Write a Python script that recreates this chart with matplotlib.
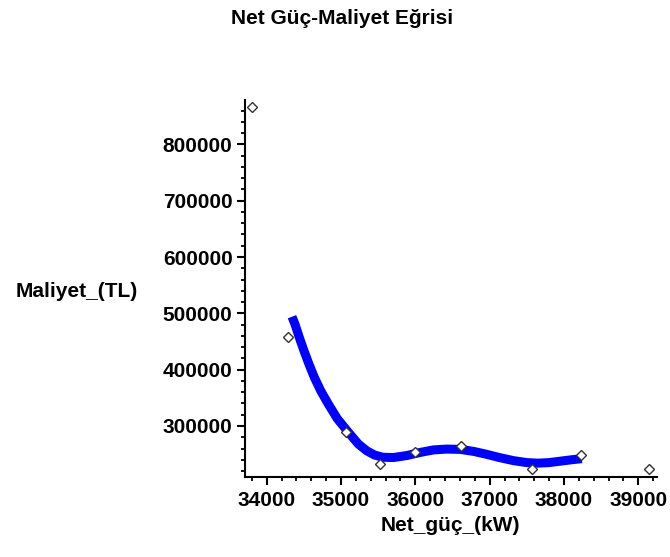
import matplotlib
matplotlib.use("Agg")
import matplotlib.pyplot as plt
from matplotlib.ticker import MultipleLocator

plt.rcParams['font.family'] = ['Liberation Sans', 'DejaVu Sans']

# Measured points: net power (kW) vs. cost (TL)
net_power = [33800, 34280, 35070, 35530, 36000, 36620, 37570, 38225, 39150]
cost = [865800, 458800, 289400, 232700, 254700, 264600, 223400, 248700, 223400]

# Fitted cost curve over the measured range
curve_power = [34340, 34381, 34439, 34502, 34569, 34641, 34727, 34829, 34950,
               35098, 35233, 35346, 35450, 35560, 35704, 35884, 36063, 36242,
               36420, 36600, 36780, 36950, 37130, 37320, 37500, 37650, 37800,
               37950, 38100, 38240]
curve_cost = [494000, 480500, 457000, 433300, 409700, 386200, 362500, 338900, 313000,
              289000, 268000, 256000, 248500, 244500, 244000, 247500, 253000, 257500,
              259000, 258500, 255000, 250000, 244000, 238500, 235000, 234000, 235000,
              237500, 240000, 242000]

x_ticks = [34000, 35000, 36000, 37000, 38000, 39000]
y_ticks = [300000, 400000, 500000, 600000, 700000, 800000]

fig = plt.figure(figsize=(6.70, 5.57), dpi=100)
ax = fig.add_axes([0.3657, 0.1442, 0.6149, 0.6763])

ax.plot(curve_power, curve_cost, color='#0000ff', lw=6.5,
        solid_capstyle='butt', solid_joinstyle='round', zorder=2)
ax.plot(net_power, cost, ls='none', marker='D', ms=5.5, mfc='white',
        mec='#333333', mew=1.0, zorder=3)

ax.set_xlim(33708, 39252)
ax.set_ylim(210000, 878800)

ax.set_xticks(x_ticks)
ax.set_yticks(y_ticks)
ax.set_xticklabels([str(v) for v in x_ticks])
ax.set_yticklabels([str(v) for v in y_ticks])
ax.xaxis.set_minor_locator(MultipleLocator(200))
ax.yaxis.set_minor_locator(MultipleLocator(20000))

for side in ('top', 'right'):
    ax.spines[side].set_visible(False)
for side in ('left', 'bottom'):
    ax.spines[side].set_linewidth(1.5)
    ax.spines[side].set_color('black')

ax.tick_params(which='major', direction='out', length=6, width=1.5, pad=3,
               labelsize=15)
ax.tick_params(axis='x', which='major', pad=4.5)
ax.tick_params(which='minor', direction='out', length=3, width=1.3)
for lab in ax.get_xticklabels() + ax.get_yticklabels():
    lab.set_fontweight('bold')

fig.text(0.51, 0.967, 'Net Güç-Maliyet Eğrisi', ha='center', va='center',
         fontsize=15, fontweight='bold')
fig.text(0.115, 0.476, 'Maliyet_(TL)', ha='center', va='center',
         fontsize=15, fontweight='bold')
fig.text(0.672, 0.056, 'Net_güç_(kW)', ha='center', va='center',
         fontsize=15, fontweight='bold')

fig.savefig('out.png', dpi=100, facecolor='white')
